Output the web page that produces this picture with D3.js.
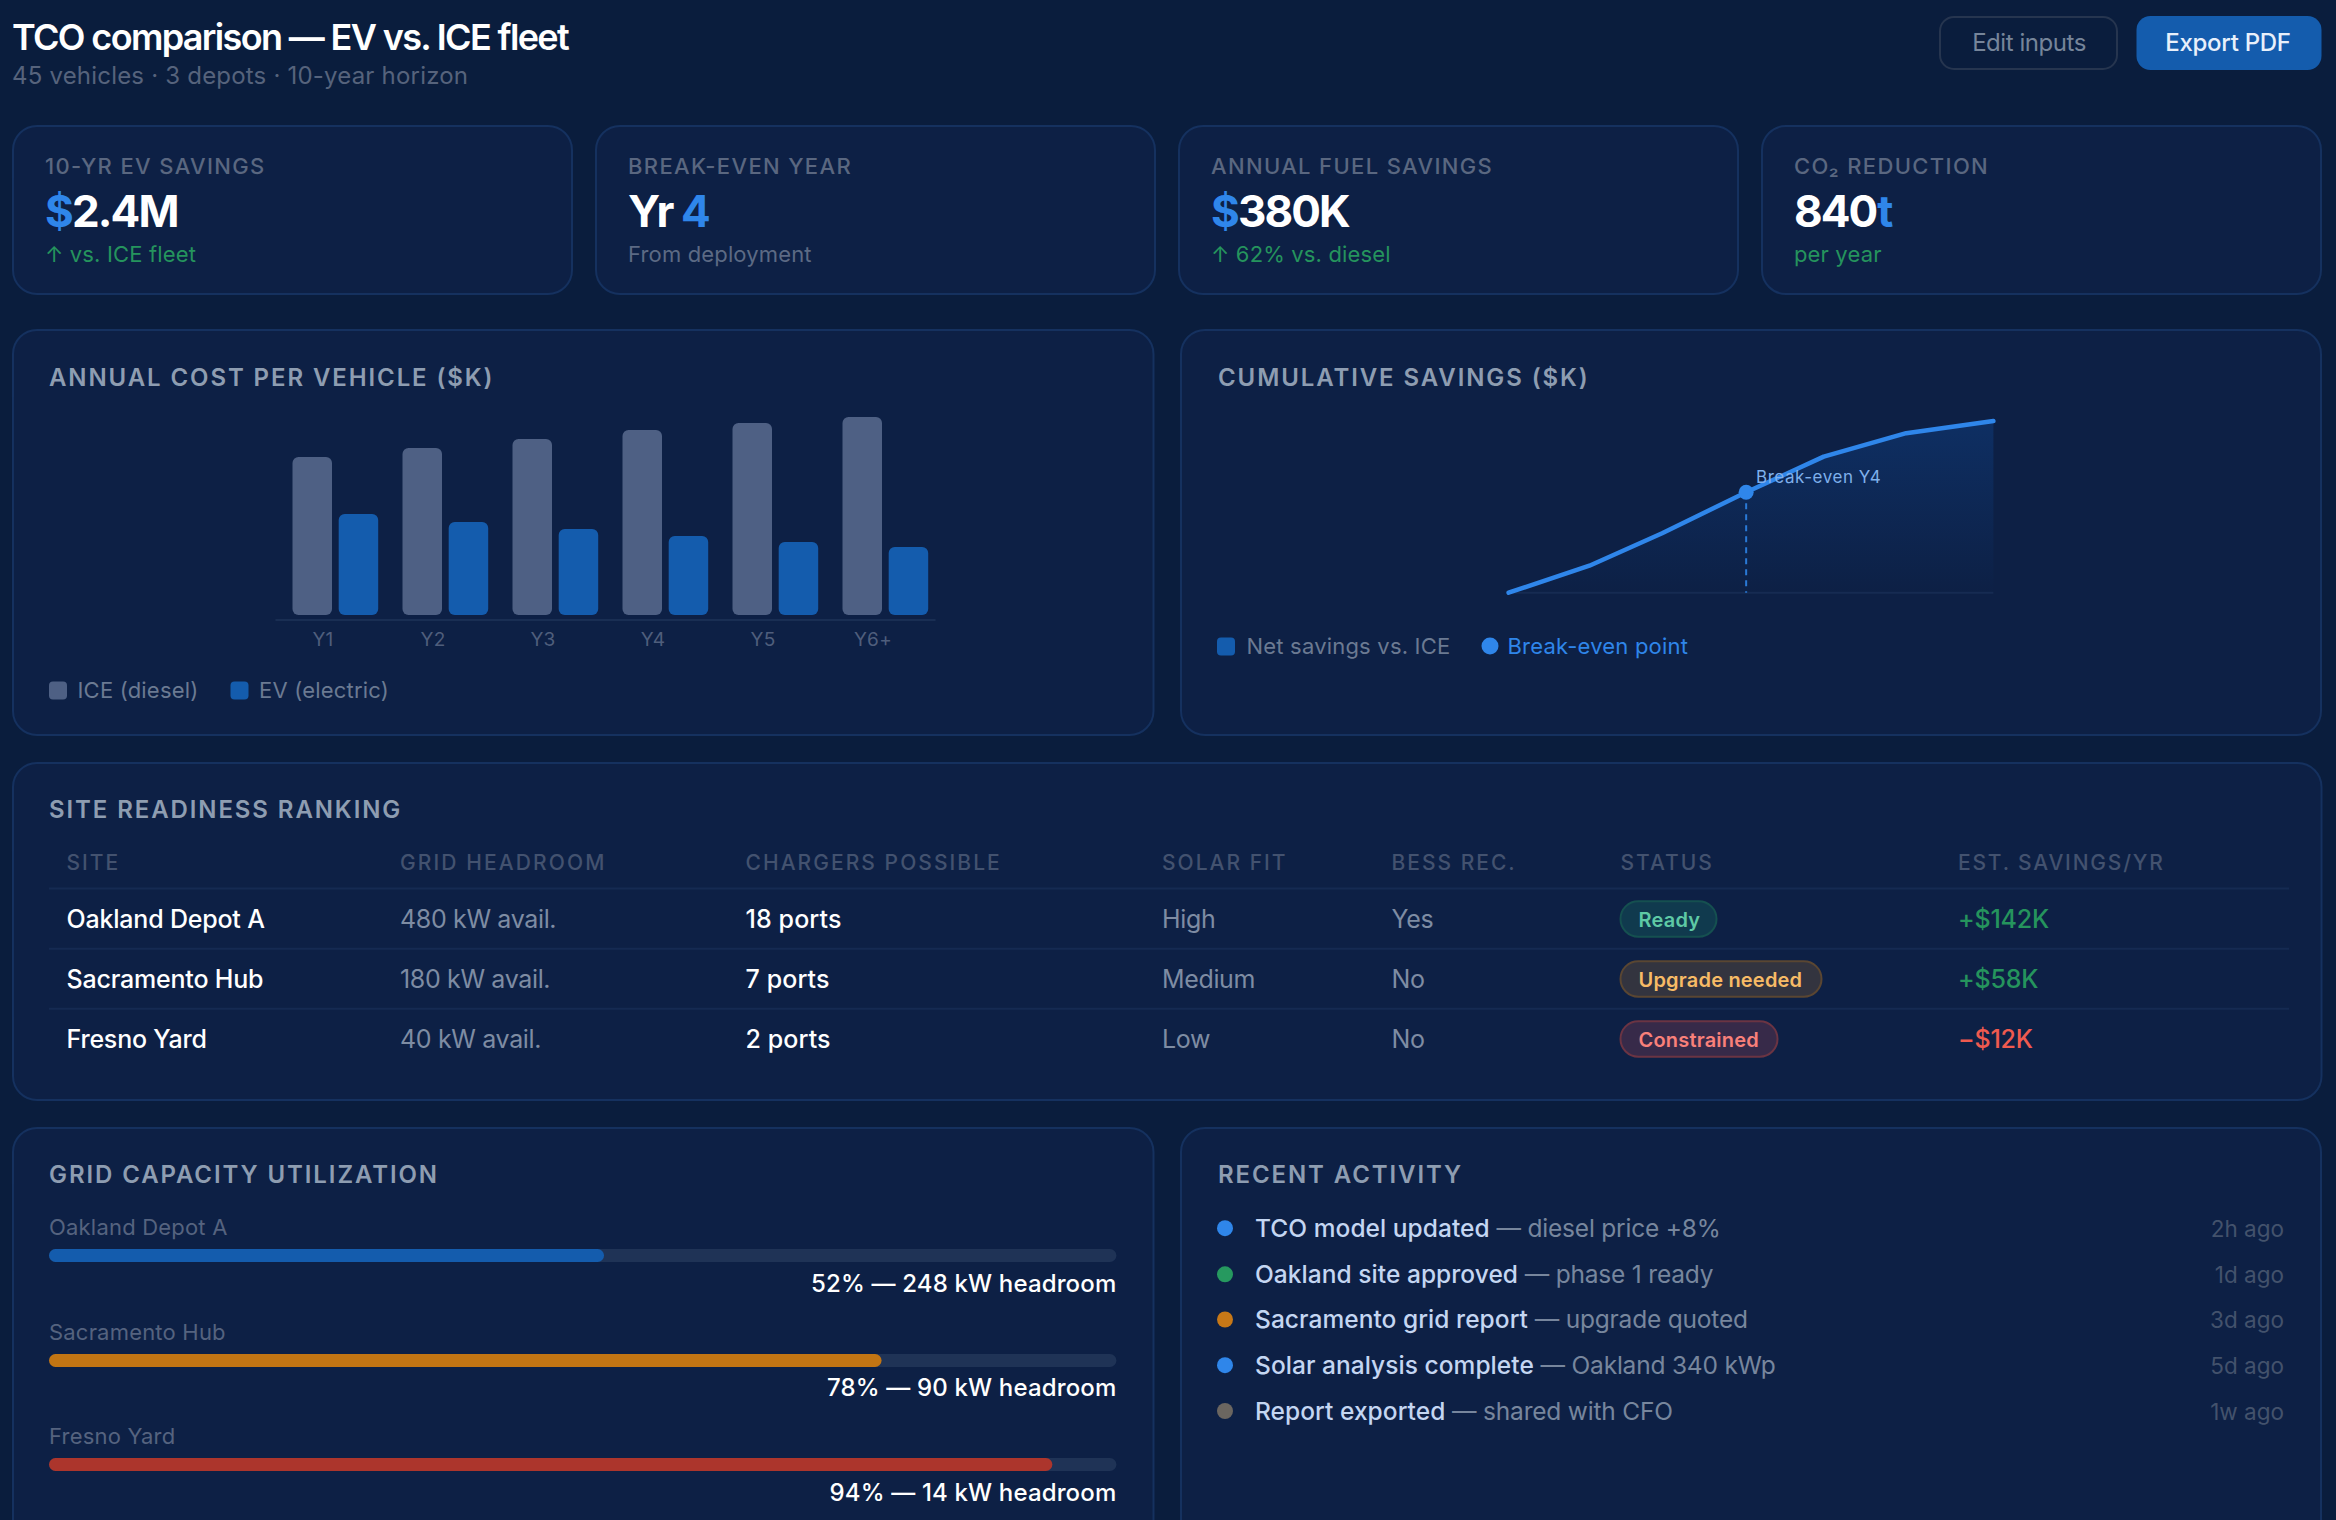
<!DOCTYPE html>
<html>
<head>
  <meta charset="utf-8">
  <title>TCO comparison</title>
  <script src="https://d3js.org/d3.v7.min.js"></script>
  <style media="screen">
    html, body { margin: 0; padding: 0; background: #0a1d3d; overflow: hidden; }
    text { font-family: Inter, "Noto Sans", sans-serif; }
    .panel { fill: #0d2045; stroke: #15315f; stroke-width: 2; }
    .panelTitle { font-size: 24px; font-weight: 600; fill: #8e9db1; letter-spacing: 1.9px; }
    .legend { font-size: 22px; fill: #6b7a92; letter-spacing: 0.2px; }
    .axisLine .domain { stroke: #1e3358; stroke-width: 1.5; }
    .axisLine text { font-size: 19px; fill: #4f5e7c; font-family: Inter, sans-serif; letter-spacing: 0.3px; }
  </style>
</head>

<body>
<div id="output"></div>

<script type="text/javascript">

  var kpiLabels = ["10-YR EV SAVINGS", "BREAK-EVEN YEAR", "ANNUAL FUEL SAVINGS", "CO\u2082 REDUCTION"];
  var kpiValues = [["$", "2.4M"], ["Yr ", "4"], ["$", "380K"], ["840", "t"]];
  var kpiAccent = [0, 1, 0, 1];
  var kpiNotes = ["\u2191 vs. ICE fleet", "From deployment", "\u2191 62% vs. diesel", "per year"];
  var kpiNoteColors = ["#25945d", "#5c6a84", "#25945d", "#25945d"];

  var years = ["Y1", "Y2", "Y3", "Y4", "Y5", "Y6+"];
  var iceCost = [15.8, 16.7, 17.6, 18.5, 19.2, 19.8];
  var evCost = [10.1, 9.3, 8.6, 7.9, 7.3, 6.8];

  var cumYears = [0, 1, 1.9, 2.94, 3.9, 4.92, 6];
  var cumSavings = [0, 135, 297, 502, 680, 797, 858];
  var breakEvenIndex = 3;

  var tableHeaders = ["SITE", "GRID HEADROOM", "CHARGERS POSSIBLE", "SOLAR FIT", "BESS REC.", "STATUS", "EST. SAVINGS/YR"];
  var sites = ["Oakland Depot A", "Sacramento Hub", "Fresno Yard"];
  var gridAvail = ["480 kW avail.", "180 kW avail.", "40 kW avail."];
  var ports = ["18 ports", "7 ports", "2 ports"];
  var solarFit = ["High", "Medium", "Low"];
  var bessRec = ["Yes", "No", "No"];
  var statusLabels = ["Ready", "Upgrade needed", "Constrained"];
  var estSavings = ["+$142K", "+$58K", "\u2212$12K"];

  var utilization = [52, 78, 94];
  var utilLabels = ["52% \u2014 248 kW headroom", "78% \u2014 90 kW headroom", "94% \u2014 14 kW headroom"];

  var activityBold = ["TCO model updated", "Oakland site approved", "Sacramento grid report", "Solar analysis complete", "Report exported"];
  var activityRest = [" \u2014 diesel price +8%", " \u2014 phase 1 ready", " \u2014 upgrade quoted", " \u2014 Oakland 340 kWp", " \u2014 shared with CFO"];
  var activityTimes = ["2h ago", "1d ago", "3d ago", "5d ago", "1w ago"];
  var activityColors = ["#2f86ea", "#26995f", "#c77817", "#2f86ea", "#6b6660"];

  var w = 2336;
  var h = 1520;

  var blue = "#2f86ea";
  var iceColor = "#4e6084";
  var evColor = "#145cad";

  var svg = d3.select("#output").append("svg")
          .attr("width", w)
          .attr("height", h)
          .style("display", "block");

  svg.append("rect").attr("width", w).attr("height", h).attr("fill", "#0a1d3d");

  function addText(x, y, str, size, weight, color, spacing, anchor) {
    return svg.append("text")
            .attr("x", x)
            .attr("y", y)
            .attr("text-anchor", anchor || "start")
            .style("font-size", size + "px")
            .style("font-weight", weight)
            .style("fill", color)
            .style("letter-spacing", (spacing || 0) + "px")
            .text(str);
  }

  function addPanel(x, y, wd, ht) {
    svg.append("rect")
            .attr("class", "panel")
            .attr("x", x).attr("y", y)
            .attr("width", wd).attr("height", ht)
            .attr("rx", 24);
  }

  function addTitle(x, y, str) {
    svg.append("text").attr("class", "panelTitle").attr("x", x).attr("y", y).text(str);
  }

  // header
  addText(12, 50, "TCO comparison \u2014 EV vs. ICE fleet", 36, 600, "#ffffff", -1.65);
  addText(12, 84, "45 vehicles \u00b7 3 depots \u00b7 10-year horizon", 24, 400, "#56637c", 0.2);

  svg.append("rect").attr("x", 1940).attr("y", 17).attr("width", 177).attr("height", 52).attr("rx", 14)
          .attr("fill", "none").attr("stroke", "#26354f").attr("stroke-width", 2);
  addText(2029, 51, "Edit inputs", 24, 400, "#76859a", -0.45, "middle");
  svg.append("rect").attr("x", 2136.5).attr("y", 16).attr("width", 185).attr("height", 54).attr("rx", 14)
          .attr("fill", evColor);
  addText(2228, 51, "Export PDF", 24, 500, "#e8f0fb", -0.3, "middle");

  // kpi cards
  var cardX = [13, 596, 1179, 1762];
  kpiLabels.forEach(function(label, i) {
    addPanel(cardX[i], 126, 559, 168);
    var tx = cardX[i] + 32;
    addText(tx, 174, label, 22, 500, "#5a6780", 1.35);
    var val = addText(tx, 227, "", 44, 700, "#ffffff", -1.9);
    val.selectAll("tspan")
            .data(kpiValues[i])
            .enter()
            .append("tspan")
            .style("fill", function(d, j) { return j === kpiAccent[i] ? blue : "#ffffff"; })
            .text(function(d) { return d; });
    addText(tx, 262, kpiNotes[i], 22, 400, kpiNoteColors[i], 0.15);
  });

  // annual cost chart
  addPanel(13, 330, 1140.5, 405);
  addTitle(49, 386, "ANNUAL COST PER VEHICLE ($K)");

  var xCost = d3.scaleBand().domain(years).range([275, 935]);
  var yCost = d3.scaleLinear().domain([0, 20]).range([615, 415]);

  svg.selectAll(".iceBar")
          .data(years)
          .enter()
          .append("rect")
          .attr("class", "iceBar")
          .attr("x", function(d) { return xCost(d) + 17.5; })
          .attr("y", function(d, i) { return yCost(iceCost[i]); })
          .attr("width", 39.5)
          .attr("height", function(d, i) { return yCost(0) - yCost(iceCost[i]); })
          .attr("rx", 6)
          .attr("fill", iceColor);

  svg.selectAll(".evBar")
          .data(years)
          .enter()
          .append("rect")
          .attr("class", "evBar")
          .attr("x", function(d) { return xCost(d) + 63.7; })
          .attr("y", function(d, i) { return yCost(evCost[i]); })
          .attr("width", 39.5)
          .attr("height", function(d, i) { return yCost(0) - yCost(evCost[i]); })
          .attr("rx", 6)
          .attr("fill", evColor);

  var costAxis = svg.append("g")
          .attr("class", "axisLine")
          .attr("transform", "translate(0,619.5)")
          .call(d3.axisBottom(xCost).tickSize(0).tickSizeOuter(0));
  costAxis.selectAll("text").attr("dx", -7).attr("y", 12).attr("dy", 14);

  svg.append("rect").attr("x", 49).attr("y", 681.5).attr("width", 18).attr("height", 18).attr("rx", 4).attr("fill", iceColor);
  svg.append("text").attr("class", "legend").attr("x", 77.5).attr("y", 698).text("ICE (diesel)");
  svg.append("rect").attr("x", 230.5).attr("y", 681.5).attr("width", 18).attr("height", 18).attr("rx", 4).attr("fill", evColor);
  svg.append("text").attr("class", "legend").attr("x", 259).attr("y", 698).text("EV (electric)");

  // cumulative savings chart
  addPanel(1181, 330, 1140, 405);
  addTitle(1218, 386, "CUMULATIVE SAVINGS ($K)");

  var xCum = d3.scaleLinear().domain([0, 6]).range([1508.6, 1993.4]);
  var yCum = d3.scaleLinear().domain([0, 858]).range([592.7, 421]);

  var grad = svg.append("defs").append("linearGradient")
          .attr("id", "cumFill")
          .attr("x1", 0).attr("y1", 0).attr("x2", 0).attr("y2", 1);
  grad.append("stop").attr("offset", "0%").attr("stop-color", "#0e2f63");
  grad.append("stop").attr("offset", "100%").attr("stop-color", "#0d2045");

  var area = d3.area()
          .x(function(d, i) { return xCum(cumYears[i]); })
          .y0(yCum(0))
          .y1(function(d) { return yCum(d); });

  var line = d3.line()
          .x(function(d, i) { return xCum(cumYears[i]); })
          .y(function(d) { return yCum(d); });

  svg.append("path").datum(cumSavings).attr("d", area).attr("fill", "url(#cumFill)");

  svg.append("line")
          .attr("x1", xCum(0)).attr("x2", xCum(6))
          .attr("y1", yCum(0)).attr("y2", yCum(0))
          .attr("stroke", "#162b52").attr("stroke-width", 2);

  svg.append("line")
          .attr("x1", xCum(cumYears[breakEvenIndex])).attr("x2", xCum(cumYears[breakEvenIndex]))
          .attr("y1", yCum(cumSavings[breakEvenIndex])).attr("y2", yCum(0))
          .attr("stroke", "#2a79d6").attr("stroke-width", 2).attr("stroke-dasharray", "6 5");

  svg.append("path").datum(cumSavings).attr("d", line)
          .attr("fill", "none").attr("stroke", blue).attr("stroke-width", 4.5)
          .attr("stroke-linecap", "round").attr("stroke-linejoin", "round");

  svg.append("circle")
          .attr("cx", xCum(cumYears[breakEvenIndex])).attr("cy", yCum(cumSavings[breakEvenIndex]))
          .attr("r", 7.5).attr("fill", blue);

  addText(1756, 483, "Break-even Y4", 17, 400, "#7fb0ec", 0.55);

  svg.append("rect").attr("x", 1217).attr("y", 637.5).attr("width", 18).attr("height", 18).attr("rx", 4).attr("fill", evColor);
  svg.append("text").attr("class", "legend").attr("x", 1246.5).attr("y", 653.5).text("Net savings vs. ICE");
  svg.append("circle").attr("cx", 1490).attr("cy", 646).attr("r", 8.5).attr("fill", blue);
  svg.append("text").attr("class", "legend").attr("x", 1507.5).attr("y", 653.5).style("fill", blue).text("Break-even point");

  // site table
  addPanel(13, 763, 2308.5, 337);
  addTitle(49, 818, "SITE READINESS RANKING");

  var colX = [66.5, 400, 745.5, 1162, 1391.5, 1620.5, 1958];
  var headSpacing = [2, 2.1, 2.05, 2, 2, 2, 1.8];
  tableHeaders.forEach(function(hd, i) {
    addText(colX[i], 870, hd, 21, 500, "#43526f", headSpacing[i]);
  });

  var rowBase = d3.scalePoint().domain(sites).range([927.7, 1047.7]);
  var rowLines = [888.5, 948.7, 1008.7];
  rowLines.forEach(function(y) {
    svg.append("line").attr("x1", 49).attr("x2", 2289).attr("y1", y).attr("y2", y)
            .attr("stroke", "#152a52").attr("stroke-width", 2);
  });

  var badgeFill = ["#103a4e", "#33343f", "#372a49"];
  var badgeLine = ["#155050", "#5a4632", "#6b3443"];
  var badgeText = ["#5ec9a5", "#f7bb66", "#f9807a"];
  var badgeWidth = [96, 201, 157];
  var savingsColor = ["#25945d", "#25945d", "#ef5a4f"];

  sites.forEach(function(site, i) {
    var y = rowBase(site);
    addText(colX[0], y, site, 25, 500, "#ffffff", -0.2);
    addText(colX[1], y, gridAvail[i], 25, 400, "#7e8ca3", -0.35);
    addText(colX[2], y, ports[i], 25, 500, "#ffffff", 0.1);
    addText(colX[3], y, solarFit[i], 25, 400, "#7e8ca3", -0.35);
    addText(colX[4], y, bessRec[i], 25, 400, "#7e8ca3", -0.35);
    svg.append("rect")
            .attr("x", colX[5]).attr("y", y - 26.5)
            .attr("width", badgeWidth[i]).attr("height", 35.5)
            .attr("rx", 17.75)
            .attr("fill", badgeFill[i]).attr("stroke", badgeLine[i]).attr("stroke-width", 2);
    addText(colX[5] + 18, y - 1, statusLabels[i], 20, 600, badgeText[i], 0.2);
    addText(colX[6], y, estSavings[i], 25, 500, savingsColor[i], -0.2);
  });

  // grid capacity
  addPanel(13, 1128, 1140.5, 500);
  addTitle(49, 1183, "GRID CAPACITY UTILIZATION");

  var xUtil = d3.scaleLinear().domain([0, 100]).range([49, 1116.4]);
  var utilColors = [evColor, "#c27513", "#ac352c"];
  var labelY = [1235, 1340, 1444];
  var barY = [1249, 1354, 1458];
  var valueY = [1291.7, 1395.7, 1500.7];

  svg.selectAll(".track")
          .data(utilization)
          .enter()
          .append("rect")
          .attr("class", "track")
          .attr("x", xUtil(0))
          .attr("y", function(d, i) { return barY[i]; })
          .attr("width", xUtil(100) - xUtil(0))
          .attr("height", 13)
          .attr("rx", 6.5)
          .attr("fill", "#1f3356");

  svg.selectAll(".fill")
          .data(utilization)
          .enter()
          .append("rect")
          .attr("class", "fill")
          .attr("x", xUtil(0))
          .attr("y", function(d, i) { return barY[i]; })
          .attr("width", function(d) { return xUtil(d) - xUtil(0); })
          .attr("height", 13)
          .attr("rx", 6.5)
          .attr("fill", function(d, i) { return utilColors[i]; });

  sites.forEach(function(site, i) {
    addText(49, labelY[i], site, 22, 400, "#55637f", 0.2);
    addText(1116.4, valueY[i], utilLabels[i], 24, 500, "#ffffff", 0.15, "end");
  });

  // recent activity
  addPanel(1181, 1128, 1140, 500);
  addTitle(1218, 1183, "RECENT ACTIVITY");

  var rowY = [1236.7, 1282.8, 1328, 1373.7, 1419.5];
  activityBold.forEach(function(b, i) {
    svg.append("circle").attr("cx", 1225).attr("cy", rowY[i] - 8.5).attr("r", 8).attr("fill", activityColors[i]);
    var t = addText(1255, rowY[i], "", 24.5, 500, "#c4d6f2", 0.05);
    t.append("tspan").text(b);
    t.append("tspan").style("font-weight", 400).style("fill", "#77869d").style("letter-spacing", "-0.2px").text(activityRest[i]);
    addText(2284, rowY[i], activityTimes[i], 22.5, 400, "#43526c", 0, "end");
  });

</script>

</body>

</html>
